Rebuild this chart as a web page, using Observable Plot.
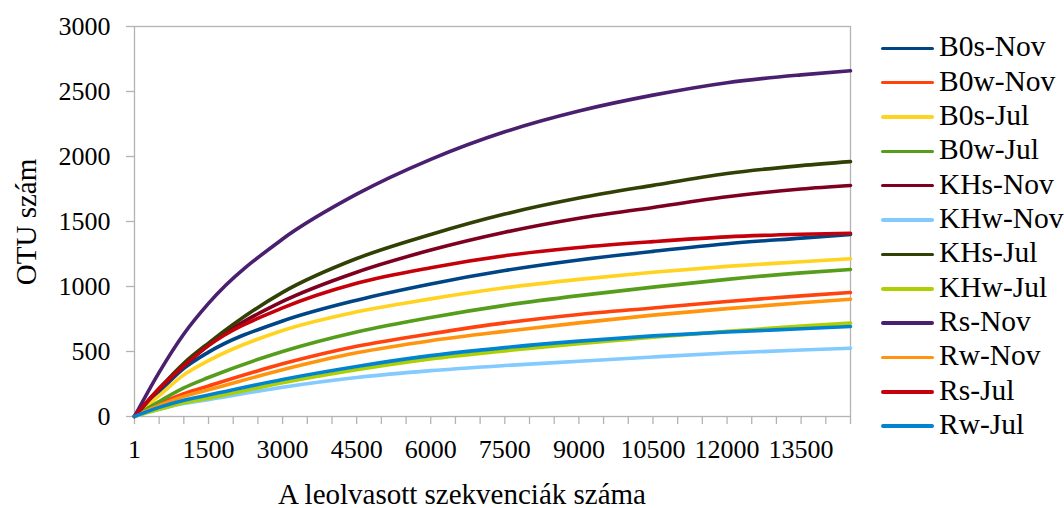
<!DOCTYPE html>
<html>
<head>
<meta charset="utf-8">
<script src="https://cdn.jsdelivr.net/npm/d3@7"></script>
<script src="https://cdn.jsdelivr.net/npm/@observablehq/plot@0.6"></script>
<style>
  html, body { margin: 0; padding: 0; background: #fff; }
  #wrap { position: relative; width: 1064px; height: 508px; font-family: "Liberation Serif", "Times New Roman", serif; color: #000; }
  #chart svg { display: block; }
  .ttl { position: absolute; white-space: nowrap; font-size: 29px; line-height: 1; }
  .leg { position: absolute; left: 881px; font-size: 29.5px; line-height: 1; white-space: nowrap; }
  .leg .sw { position: absolute; left: 0; width: 53px; height: 3.6px; border-radius: 2px; }
  .leg .lb { position: absolute; left: 58px; }
</style>
</head>
<body>
<div id="wrap">
  <div id="chart"></div>
</div>
<script>
// ---- data ----
const seriesNames = ["B0s-Nov", "B0w-Nov", "B0s-Jul", "B0w-Jul", "KHs-Nov", "KHw-Nov",
                     "KHs-Jul", "KHw-Jul", "Rs-Nov", "Rw-Nov", "Rs-Jul", "Rw-Jul"];
const seriesColors = ["#004586", "#ff420e", "#ffd320", "#579d1c", "#7e0021", "#83caff",
                      "#314004", "#aecf00", "#4b1f6f", "#ff950e", "#c5000b", "#0084d1"];

const xValues = [1, 500, 1000, 1500, 3000, 4500, 6000, 7500, 9000, 10500, 12000, 13500, 14500];

const B0sNov = [1, 190, 370, 495, 735, 895, 1020, 1123, 1204, 1270, 1329, 1372, 1400];
const B0wNov = [1, 95, 175, 235, 405, 540, 636, 720, 785, 835, 885, 928, 954];
const B0sJul = [1, 160, 320, 430, 662, 805, 905, 990, 1055, 1110, 1155, 1190, 1213];
const B0wJul = [1, 115, 220, 300, 500, 650, 762, 855, 930, 995, 1055, 1105, 1131];
const KHsNov = [1, 210, 390, 550, 885, 1110, 1280, 1417, 1525, 1608, 1690, 1750, 1777];
const KHwNov = [1, 55, 100, 130, 225, 300, 353, 392, 425, 458, 488, 512, 525];
const KHsJul = [1, 215, 410, 565, 955, 1215, 1400, 1557, 1680, 1778, 1869, 1930, 1961];
const KHwJul = [1, 55, 105, 140, 260, 360, 443, 505, 560, 610, 655, 695, 718];
const RsNov  = [1, 340, 635, 870, 1365, 1710, 1978, 2190, 2350, 2472, 2568, 2628, 2659];
const RwNov  = [1, 85, 155, 205, 360, 490, 583, 655, 720, 780, 830, 875, 902];
const RsJul  = [1, 215, 390, 545, 835, 1025, 1145, 1237, 1300, 1345, 1382, 1402, 1410];
const RwJul  = [1, 70, 125, 165, 285, 385, 468, 530, 580, 620, 650, 675, 692];

const seriesValues = [B0sNov, B0wNov, B0sJul, B0wJul, KHsNov, KHwNov,
                      KHsJul, KHwJul, RsNov, RwNov, RsJul, RwJul];

const xTicks = [1, 500, 1000, 1500, 2000, 2500, 3000, 3500, 4000, 4500, 5000, 5500, 6000,
                6500, 7000, 7500, 8000, 8500, 9000, 9500, 10000, 10500, 11000, 11500, 12000,
                12500, 13000, 13500, 14000, 14500];
const xTickLabels = [1, 1500, 3000, 4500, 6000, 7500, 9000, 10500, 12000, 13500];
const yTicks = [0, 500, 1000, 1500, 2000, 2500, 3000];

const xTitle = "A leolvasott szekvenciák száma";
const yTitle = "OTU szám";

// ---- table ----
const rows = [];
seriesNames.forEach((name, i) => {
  seriesValues[i].forEach((v, j) => rows.push({series: name, x: xValues[j], y: v}));
});

const axisGray = "#b3b3b3";

const chart = Plot.plot({
  width: 1064,
  height: 508,
  marginLeft: 134,
  marginRight: 214,
  marginTop: 26,
  marginBottom: 92,
  style: {fontFamily: "'Liberation Serif', 'Times New Roman', serif", fontSize: "26px", color: "#000", background: "#fff"},
  x: {domain: [1, 14500]},
  y: {domain: [0, 3000]},
  color: {domain: seriesNames, range: seriesColors},
  marks: [
    Plot.frame({stroke: axisGray, strokeWidth: 1.3}),
    Plot.axisY({ticks: yTicks, tickSize: 8, tickPadding: 16, label: null, stroke: axisGray, fill: "#000", strokeWidth: 1.3, tickFormat: d => String(d)}),
    Plot.axisX({ticks: xTicks, tickSize: 8, tickPadding: 15, label: null, stroke: axisGray, fill: "#000", strokeWidth: 1.3,
                tickFormat: d => xTickLabels.includes(d) ? String(d) : ""}),
    Plot.line(rows, {x: "x", y: "y", z: "series", stroke: "series", strokeWidth: 3.6, curve: "monotone-x"})
  ]
});
document.getElementById("chart").appendChild(chart);

// ---- titles ----
const wrap = document.getElementById("wrap");
const xt = document.createElement("div");
xt.className = "ttl";
xt.textContent = xTitle;
xt.style.left = "262px";
xt.style.width = "400px";
xt.style.textAlign = "center";
xt.style.top = "480px";
wrap.appendChild(xt);

const yt = document.createElement("div");
yt.className = "ttl";
yt.textContent = yTitle;
yt.style.left = "26px";
yt.style.top = "222px";
yt.style.transform = "translate(-50%, -50%) rotate(-90deg)";
wrap.appendChild(yt);

// ---- legend ----
seriesNames.forEach((name, i) => {
  const cy = 48.3 + i * 34.35;
  const e = document.createElement("div");
  e.className = "leg";
  e.style.top = cy + "px";
  const sw = document.createElement("div");
  sw.className = "sw";
  sw.style.background = seriesColors[i];
  sw.style.top = "-1.8px";
  const lb = document.createElement("div");
  lb.className = "lb";
  lb.textContent = name;
  lb.style.top = "-16px";
  e.appendChild(sw);
  e.appendChild(lb);
  wrap.appendChild(e);
});
</script>
</body>
</html>
